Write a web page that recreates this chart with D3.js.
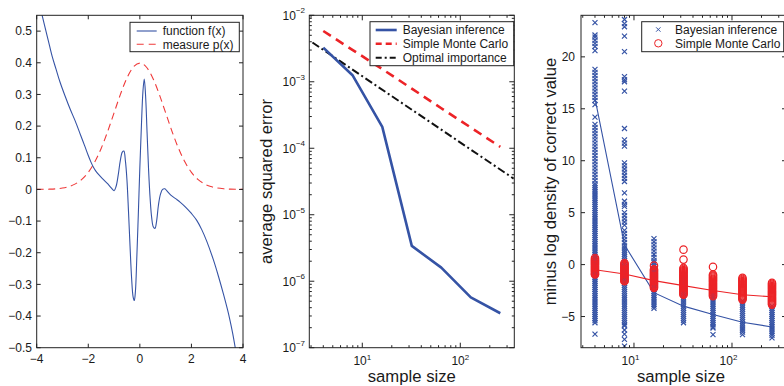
<!DOCTYPE html>
<html><head><meta charset="utf-8">
<script src="https://cdn.jsdelivr.net/npm/d3@7"></script>
<style>
body{margin:0;background:#fff}
svg{display:block}
text{font-family:"Liberation Sans",Arial,Helvetica,sans-serif;fill:#1a1a1a}
</style>
</head><body>
<svg id="c" width="784" height="386"></svg>
<script>
// ---------------- data ----------------
// left panel: function f(x) and measure p(x)
const fX = [-3.82,-3.7,-3.55,-3.4,-3.25,-3.1,-2.9,-2.7,-2.5,-2.3,-2.15,-2.0,-1.9,-1.8,-1.7,-1.55,-1.4,-1.25,-1.1,-1.0,-0.92,-0.84,-0.76,-0.68,-0.62,-0.56,-0.5,-0.44,-0.38,-0.32,-0.26,-0.215,-0.17,-0.12,-0.06,0.0,0.06,0.12,0.17,0.22,0.28,0.34,0.4,0.46,0.52,0.585,0.65,0.72,0.8,0.88,0.97,1.05,1.2,1.4,1.56,1.8,2.0,2.2,2.4,2.6,2.85,3.05,3.24,3.4,3.5,3.6,3.72];
const fY = [0.56,0.52,0.47,0.42,0.38,0.34,0.295,0.253,0.215,0.172,0.14,0.107,0.087,0.07,0.057,0.043,0.03,0.018,0.004,-0.004,0.01,0.045,0.09,0.118,0.121,0.09,0.03,-0.07,-0.18,-0.28,-0.34,-0.351,-0.32,-0.22,-0.08,0.07,0.2,0.31,0.349,0.3,0.18,0.06,-0.03,-0.09,-0.118,-0.123,-0.1,-0.05,-0.015,0.0,0.002,-0.005,-0.018,-0.03,-0.04,-0.058,-0.076,-0.097,-0.127,-0.165,-0.222,-0.275,-0.33,-0.38,-0.415,-0.455,-0.51];
const pX = [-4,-3.75,-3.5,-3.25,-3,-2.75,-2.5,-2.25,-2,-1.75,-1.5,-1.25,-1,-0.75,-0.5,-0.25,0,0.25,0.5,0.75,1,1.25,1.5,1.75,2,2.25,2.5,2.75,3,3.25,3.5,3.75,4];
const pY = [0.0001,0.0004,0.0009,0.002,0.0044,0.0091,0.0175,0.0317,0.054,0.0863,0.1295,0.1826,0.242,0.3011,0.3521,0.3867,0.3989,0.3867,0.3521,0.3011,0.242,0.1826,0.1295,0.0863,0.054,0.0317,0.0175,0.0091,0.0044,0.002,0.0009,0.0004,0.0001];
const leftXTicks = [-4,-2,0,2,4];
const leftYTicks = [-0.5,-0.4,-0.3,-0.2,-0.1,0,0.1,0.2,0.3,0.4,0.5];

// middle panel: average squared error
const sampleSizes = [4,8,16,32,64,128,256];
const errBayes = [3.26e-3,1.24e-3,2.1e-4,3.4e-6,1.6e-6,5.7e-7,3.3e-7];
const errMC = [5.8e-3,3.0e-3,1.55e-3,7.9e-4,4.0e-4,2.05e-4,1.05e-4];
const optX = [3.1,350];
const optY = [3.9e-3,3.5e-5];
const errExpTicks = [-7,-6,-5,-4,-3,-2];
const sizeExpTicks = [1,2];

// right panel: minus log density of correct value
const rightYTicks = [-5,0,5,10,15,20];
const nllBayes = [
 [23.3,22.1,21.9,21.6,21.3,21.0,20.6,18.8,18.5,18.2,17.9,17.6,17.3,17.0,16.7,16.4,16.1,15.8,15.4,14.2,
  13.5,13.2,12.9,12.6,12.3,12.0,11.7,11.4,11.1,10.8,10.5,10.2,9.9,9.6,9.3,9.0,8.7,8.4,8.1,
  7.8,7.6,7.4,7.2,7.0,6.8,6.6,6.4,6.2,6.0,5.8,5.6,5.4,5.2,5.0,4.8,4.6,4.4,4.2,4.0,3.8,3.6,3.4,3.2,3.0,2.8,2.6,2.4,2.2,2.0,1.8,1.6,1.4,1.2,1.0,0.8,0.6,0.4,0.2,0.0,
  -0.2,-0.4,-0.6,-0.8,-1.0,-1.2,-1.4,-1.6,-1.8,-2.0,-2.2,-2.4,-2.6,-2.8,-3.0,-3.2,-3.4,-3.6,-3.8,-4.0,-4.2,-4.4,-4.6,-4.8,-5.0,-5.2,-5.4,-5.6,-6.7],
 [23.6,23.2,22.9,22.0,20.5,18.1,17.8,17.6,16.7,13.1,12.0,11.7,11.4,9.8,9.5,9.2,8.9,8.6,8.3,8.0,6.9,6.1,5.8,5.6,5.0,4.7,4.4,4.1,3.8,3.3,3.0,2.7,2.4,2.1,
  1.8,1.6,1.4,1.2,1.0,0.8,0.6,0.4,0.2,0.0,-0.2,-0.4,-0.6,-0.8,-1.0,-1.2,-1.4,-1.6,-1.8,-2.0,-2.2,-2.4,-2.6,-2.8,-3.0,-3.2,-3.4,-3.6,-3.8,-4.0,-4.2,-4.4,-4.6,-4.8,-5.0,-5.2,-5.4,-5.6,-5.8,-5.9,
  -6.3,-6.7,-7.2,-7.85],
 [2.5,2.2,1.9,1.6,1.3,1.0,0.7,0.4,0.2,0.0,-0.2,-0.4,-0.6,-0.8,-1.0,-1.2,-1.4,-1.6,-1.8,-2.0,-2.2,-2.4,-2.6,-2.8,-3.0,-3.2,-3.4,-3.6,-3.8,-4.0,-4.2],
 [-1.0,-1.2,-1.4,-1.6,-1.8,-2.0,-2.2,-2.4,-2.6,-2.8,-3.0,-3.2,-3.4,-3.6,-3.8,-4.0,-4.2,-4.4,-4.6,-4.8,-5.0,-5.2,-5.4,-5.6],
 [-2.2,-2.4,-2.6,-2.8,-3.0,-3.2,-3.4,-3.6,-3.8,-4.0,-4.2,-4.4,-4.6,-4.8,-5.0,-5.2,-5.4,-5.6,-5.8,-6.0,-6.1,-6.74],
 [-3.5,-3.7,-3.9,-4.1,-4.3,-4.5,-4.7,-4.9,-5.1,-5.3,-5.5,-5.7,-5.9,-6.1,-6.3,-6.5,-6.74],
 [-4.0,-4.2,-4.4,-4.6,-4.8,-5.0,-5.2,-5.4,-5.6,-5.8,-6.0,-6.2,-6.4,-6.6,-6.8,-7.06]
];
const nllMC = [
 [0.64,0.5,0.4,0.3,0.2,0.1,0.0,-0.1,-0.2,-0.3,-0.4,-0.5,-0.6,-0.7,-0.8,-0.9,-0.96],
 [0.16,0.05,-0.05,-0.15,-0.25,-0.35,-0.45,-0.55,-0.65,-0.75,-0.85,-0.95,-1.05,-1.15,-1.25,-1.35,-1.45,-1.55,-1.6],
 [-0.1,-0.45,-0.55,-0.65,-0.75,-0.85,-0.95,-1.05,-1.15,-1.25,-1.35,-1.45,-1.55,-1.65,-1.75,-1.85,-1.95,-2.05,-2.15,-2.25],
 [1.44,0.48,-0.32,-0.42,-0.52,-0.62,-0.72,-0.82,-0.92,-1.02,-1.12,-1.22,-1.32,-1.42,-1.52,-1.62,-1.72,-1.82,-1.92,-2.02,-2.12,-2.22,-2.32,-2.42,-2.52,-2.62,-2.72,-2.82,-2.9],
 [-0.22,-0.96,-1.06,-1.16,-1.26,-1.36,-1.46,-1.56,-1.66,-1.76,-1.86,-1.96,-2.06,-2.16,-2.26,-2.36,-2.46,-2.56,-2.66,-2.76,-2.86,-2.96,-3.05],
 [-1.28,-1.38,-1.48,-1.58,-1.68,-1.78,-1.88,-1.98,-2.08,-2.18,-2.28,-2.38,-2.48,-2.58,-2.68,-2.78,-2.88,-2.98,-3.08,-3.18,-3.28,-3.37],
 [-1.76,-1.86,-1.96,-2.06,-2.16,-2.26,-2.36,-2.46,-2.56,-2.66,-2.76,-2.86,-2.96,-3.06,-3.16,-3.26,-3.36,-3.46,-3.56,-3.66,-3.76,-3.85]
];
const meanBayes = [16.0,1.9,-2.7,-4.0,-4.8,-5.55,-6.0];
const meanMC = [-0.5,-0.9,-1.54,-2.02,-2.5,-2.9,-3.1];

// ---------------- styling ----------------
const BLUE = "#3553a5", RED = "#ec2327", AX = "#222";
const svg = d3.select("#c");
const TOP = 15.3, BOT = 347.7;

function box(g, x0, x1){
  g.append("rect").attr("x",x0).attr("y",TOP).attr("width",x1-x0).attr("height",BOT-TOP)
   .attr("fill","none").attr("stroke",AX).attr("stroke-width",1);
}
function xTick(g, x, len){
  g.append("line").attr("x1",x).attr("x2",x).attr("y1",BOT).attr("y2",BOT-len).attr("stroke",AX);
  g.append("line").attr("x1",x).attr("x2",x).attr("y1",TOP).attr("y2",TOP+len).attr("stroke",AX);
}
function yTick(g, y, x0, x1, len){
  g.append("line").attr("x1",x0).attr("x2",x0+len).attr("y1",y).attr("y2",y).attr("stroke",AX);
  g.append("line").attr("x1",x1).attr("x2",x1-len).attr("y1",y).attr("y2",y).attr("stroke",AX);
}
function clip(id, x0, x1){
  svg.append("clipPath").attr("id",id).append("rect").attr("x",x0).attr("y",TOP).attr("width",x1-x0).attr("height",BOT-TOP);
}
const fmt = d3.format("");

// ============ LEFT PANEL ============
{
  const x = d3.scaleLinear().domain([-4,4]).range([36.7,243]);
  const y = d3.scaleLinear().domain([-0.5,0.55]).range([BOT,TOP]);
  const g = svg.append("g");
  clip("cl1", 36.7, 243);
  const pl = g.append("g").attr("clip-path","url(#cl1)");
  pl.append("path").datum(pX.map((v,i)=>[v,pY[i]]))
    .attr("d", d3.line().x(d=>x(d[0])).y(d=>y(d[1])).curve(d3.curveMonotoneX))
    .attr("fill","none").attr("stroke","#ef3a3a").attr("stroke-width",1.1).attr("stroke-dasharray","7,4.5");
  pl.append("path").datum(fX.map((v,i)=>[v,fY[i]]))
    .attr("d", d3.line().x(d=>x(d[0])).y(d=>y(d[1])).curve(d3.curveCatmullRom.alpha(0.5)))
    .attr("fill","none").attr("stroke",BLUE).attr("stroke-width",1.1);
  box(g, 36.7, 243);
  leftXTicks.forEach(t=>{
    xTick(g, x(t), 4);
    g.append("text").attr("x",x(t)).attr("y",363).attr("text-anchor","middle").attr("font-size",12).text(fmt(t));
  });
  leftYTicks.forEach(t=>{
    yTick(g, y(t), 36.7, 243, 4);
    g.append("text").attr("x",32).attr("y",y(t)+4.3).attr("text-anchor","end").attr("font-size",12).text(fmt(t));
  });
  // legend
  g.append("rect").attr("x",130).attr("y",22.3).attr("width",109.3).attr("height",29.4).attr("fill","#fff").attr("stroke",AX);
  g.append("line").attr("x1",136.7).attr("x2",156.7).attr("y1",31).attr("y2",31).attr("stroke",BLUE).attr("stroke-width",1.1);
  g.append("line").attr("x1",136.7).attr("x2",156.7).attr("y1",44.3).attr("y2",44.3).attr("stroke","#ef3a3a").attr("stroke-width",1.1).attr("stroke-dasharray","7,5");
  g.append("text").attr("x",162.7).attr("y",35.3).attr("font-size",12).text("function f(x)");
  g.append("text").attr("x",162.7).attr("y",48.6).attr("font-size",12).text("measure p(x)");
}

function logXAxis(g, x, labelShift){
  const [d0,d1] = x.domain();
  for (let e=0; e<=3; e++){
    for (let m=1; m<10; m++){
      const v = m*Math.pow(10,e);
      if (v<d0 || v>d1) continue;
      xTick(g, x(v), m===1?5:2.5);
    }
  }
  sizeExpTicks.forEach(e=>{
    const t = g.append("text").attr("x",x(Math.pow(10,e))+labelShift).attr("y",365.3).attr("text-anchor","middle").attr("font-size",12);
    t.append("tspan").text("10");
    t.append("tspan").attr("font-size",8).attr("dy",-5.5).text(String(e));
  });
}

// ============ MIDDLE PANEL ============
{
  const x0=309.3, x1=514.3;
  const x = d3.scaleLog().domain([2.88,355.7]).range([x0,x1]);
  const y = d3.scaleLog().domain([1e-7,1e-2]).range([BOT,TOP]);
  const g = svg.append("g");
  clip("cl2", x0, x1);
  const pl = g.append("g").attr("clip-path","url(#cl2)");
  const ln = d3.line().x(d=>x(d[0])).y(d=>y(d[1]));
  pl.append("path").datum(optX.map((v,i)=>[v,optY[i]])).attr("d",ln)
    .attr("fill","none").attr("stroke","#111").attr("stroke-width",2).attr("stroke-dasharray","8,3,2,3");
  pl.append("path").datum(sampleSizes.map((v,i)=>[v,errMC[i]])).attr("d",ln)
    .attr("fill","none").attr("stroke",RED).attr("stroke-width",2.6).attr("stroke-dasharray","9,6");
  pl.append("path").datum(sampleSizes.map((v,i)=>[v,errBayes[i]])).attr("d",ln)
    .attr("fill","none").attr("stroke",BLUE).attr("stroke-width",2.6).attr("stroke-linejoin","round");
  box(g, x0, x1);
  logXAxis(g, x, 0);
  for (let e=-7; e<=-2; e++){
    for (let m=1; m<10; m++){
      const v = m*Math.pow(10,e);
      if (v>1e-2*1.0001) continue;
      yTick(g, y(v), x0, x1, m===1?5:2.5);
    }
  }
  errExpTicks.forEach(e=>{
    const t = g.append("text").attr("x",305).attr("y",y(Math.pow(10,e))+4.5).attr("text-anchor","end").attr("font-size",12);
    t.append("tspan").text("10");
    t.append("tspan").attr("font-size",8).attr("dy",-6.5).text("\u2212"+String(-e));
  });
  g.append("text").attr("x",(x0+x1)/2).attr("y",382).attr("text-anchor","middle").attr("font-size",16.7).text("sample size");
  g.append("text").attr("transform",`translate(272,${(TOP+BOT)/2}) rotate(-90)`).attr("text-anchor","middle").attr("font-size",16.7).text("average squared error");
  // legend
  g.append("rect").attr("x",370).attr("y",21.7).attr("width",143.7).attr("height",44).attr("fill","#fff").attr("stroke",AX);
  const L = [["Bayesian inference",BLUE,null,2.6],["Simple Monte Carlo",RED,"6,4",2.6],["Optimal importance","#111","6,3,2,3",2]];
  const ly = [30,43.8,57.7];
  L.forEach((d,i)=>{
    g.append("line").attr("x1",375.7).attr("x2",396.7).attr("y1",ly[i]).attr("y2",ly[i]).attr("stroke",d[1]).attr("stroke-width",d[3]).attr("stroke-dasharray",d[2]);
    g.append("text").attr("x",402.7).attr("y",ly[i]+4.3).attr("font-size",12).text(d[0]);
  });
}

// ============ RIGHT PANEL ============
{
  const x0=581, x1=786;
  const x = d3.scaleLog().domain([2.88,355.7]).range([x0,x1]);
  const y = d3.scaleLinear().domain([-8,24]).range([BOT,TOP]);
  const g = svg.append("g");
  clip("cl3", x0, x1);
  const pl = g.append("g").attr("clip-path","url(#cl3)");
  const cross = "M-2.5,-2.5L2.5,2.5M-2.5,2.5L2.5,-2.5";
  sampleSizes.forEach((s,i)=>{
    nllBayes[i].forEach(v=>{
      pl.append("path").attr("d",cross).attr("transform",`translate(${x(s)},${y(v)})`).attr("stroke",BLUE).attr("stroke-width",1.2).attr("fill","none");
    });
  });
  const ln = d3.line().x(d=>x(d[0])).y(d=>y(d[1]));
  pl.append("path").datum(sampleSizes.map((v,i)=>[v,meanBayes[i]])).attr("d",ln).attr("fill","none").attr("stroke",BLUE).attr("stroke-width",1.1);
  sampleSizes.forEach((s,i)=>{
    nllMC[i].forEach(v=>{
      pl.append("circle").attr("cx",x(s)).attr("cy",y(v)).attr("r",3.7).attr("stroke",RED).attr("stroke-width",1.2).attr("fill","none");
    });
  });
  pl.append("path").datum(sampleSizes.map((v,i)=>[v,meanMC[i]])).attr("d",ln).attr("fill","none").attr("stroke",RED).attr("stroke-width",1.1);
  box(g, x0, x1);
  logXAxis(g, x, -3.5);
  rightYTicks.forEach(t=>{
    yTick(g, y(t), x0, x1, 4);
    g.append("text").attr("x",575).attr("y",y(t)+4.3).attr("text-anchor","end").attr("font-size",12).text(fmt(t));
  });
  g.append("text").attr("x",681).attr("y",382).attr("text-anchor","middle").attr("font-size",16.7).text("sample size");
  g.append("text").attr("transform",`translate(556,${(TOP+BOT)/2}) rotate(-90)`).attr("text-anchor","middle").attr("font-size",16.7).text("minus log density of correct value");
  // legend
  g.append("rect").attr("x",641.7).attr("y",21.7).attr("width",142).attr("height",30).attr("fill","#fff").attr("stroke",AX);
  g.append("path").attr("d","M-2.2,-2.2L2.2,2.2M-2.2,2.2L2.2,-2.2").attr("transform","translate(658.3,29.5)").attr("stroke",BLUE).attr("fill","none");
  g.append("circle").attr("cx",658.3).attr("cy",43.3).attr("r",3.7).attr("stroke",RED).attr("fill","none");
  g.append("text").attr("x",675).attr("y",33.8).attr("font-size",12).text("Bayesian inference");
  g.append("text").attr("x",675).attr("y",47.6).attr("font-size",12).text("Simple Monte Carlo");
}
</script>
</body></html>
